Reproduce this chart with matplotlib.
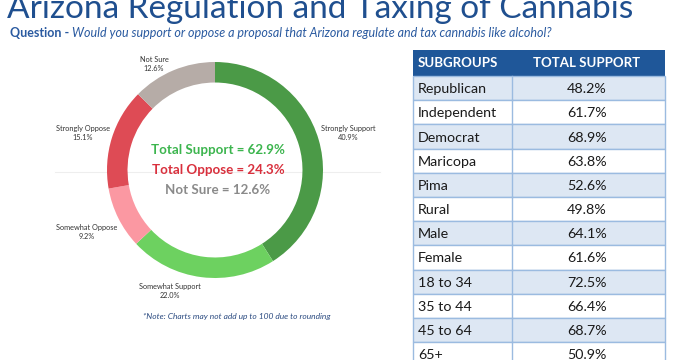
import matplotlib.pyplot as plt
from matplotlib.patches import Rectangle

plt.rcParams['font.family'] = ['Lato', 'DejaVu Sans']

# donut data
labels = ['Strongly Support', 'Somewhat Support', 'Somewhat Oppose', 'Strongly Oppose', 'Not Sure']
shares = [40.9, 22.0, 9.2, 15.1, 12.6]
colors = ['#4b9a47', '#6dd160', '#fb98a2', '#de4b55', '#b6aca7']

# table data
groups = ['Republican', 'Independent', 'Democrat', 'Maricopa', 'Pima', 'Rural',
          'Male', 'Female', '18 to 34', '35 to 44', '45 to 64', '65+']
support = [48.2, 61.7, 68.9, 63.8, 52.6, 49.8, 64.1, 61.6, 72.5, 66.4, 68.7, 50.9]

W, H = 675, 360
fig = plt.figure(figsize=(6.75, 3.6), dpi=100)
fig.patch.set_facecolor('white')

# background axes in pixel coordinates
bg = fig.add_axes([0, 0, 1, 1])
bg.set_xlim(0, W)
bg.set_ylim(H, 0)
bg.axis('off')

# title sits partly above the top edge, like the cropped screenshot
bg.text(7, 18, 'Arizona Regulation and Taxing of Cannabis', fontsize=24,
        color='#1f4f8f', ha='left', va='baseline')
q = bg.text(10, 37, 'Question - ', fontsize=9, fontweight='bold', color='#2a5aa0',
            ha='left', va='baseline')
bg.annotate('Would you support or oppose a proposal that Arizona regulate and tax cannabis like alcohol?',
            xycoords=q, xy=(1, 0), va='bottom', ha='left', fontsize=9,
            style='italic', color='#2a5aa0')

# faint divider line behind the donut
bg.plot([55, 380], [172, 172], color='#eeeeee', lw=0.8)

# donut
cx, cy, r = 215, 170, 108
pax = fig.add_axes([(cx - r) / W, (H - cy - r) / H, 2 * r / W, 2 * r / H])
pax.pie(shares, colors=colors, startangle=90, counterclock=False, radius=1,
        wedgeprops=dict(width=0.19, edgecolor='none'))
pax.set_xlim(-1, 1)
pax.set_ylim(-1, 1)
pax.axis('off')

# outer labels (pixel positions)
lab_pos = [(348, 125), (170, 283), (87, 224), (83, 125), (154, 56)]
for lab, val, (x, y) in zip(labels, shares, lab_pos):
    bg.text(x, y, lab + '\n' + f'{val:.1f}%', fontsize=5.3, color='#333333',
            ha='center', va='top', linespacing=1.4)

bg.text(218, 150, 'Total Support = 62.9%', fontsize=9.6, fontweight='bold',
        color='#3cb54e', ha='center', va='center')
bg.text(218, 170, 'Total Oppose = 24.3%', fontsize=9.6, fontweight='bold',
        color='#d9303d', ha='center', va='center')
bg.text(218, 190, 'Not Sure = 12.6%', fontsize=9.6, fontweight='bold',
        color='#8a8a8a', ha='center', va='center')

bg.text(237, 317, '*Note: Charts may not add up to 100 due to rounding', fontsize=6,
        style='italic', color='#2a4a80', ha='center', va='center')

# table
tx0, tx1, tdiv = 413, 665, 512
head_top, head_bot = 50, 76
row_h = 24.2
border = '#9bbbe0'
bg.add_patch(Rectangle((tx0, head_top), tx1 - tx0, head_bot - head_top,
                       facecolor='#1f5799', edgecolor='none'))
bg.text(418, 63, 'SUBGROUPS', fontsize=9.5, fontweight='bold', color='white',
        ha='left', va='center')
bg.text(587, 63, 'TOTAL SUPPORT', fontsize=9.5, fontweight='bold', color='white',
        ha='center', va='center')
for i, (g, s) in enumerate(zip(groups, support)):
    y0 = head_bot + i * row_h
    fc = '#dde7f3' if i % 2 == 0 else 'white'
    bg.add_patch(Rectangle((tx0, y0), tx1 - tx0, row_h, facecolor=fc,
                           edgecolor=border, lw=1.0))
    bg.plot([tdiv, tdiv], [y0, y0 + row_h], color=border, lw=1.0)
    bg.text(418, y0 + row_h / 2 + 1, g, fontsize=10.3, color='#1a1a1a',
            ha='left', va='center')
    bg.text(587, y0 + row_h / 2 + 1, f'{s:.1f}%', fontsize=10.3, color='#1a1a1a',
            ha='center', va='center')

fig.savefig('out.png', dpi=100)
